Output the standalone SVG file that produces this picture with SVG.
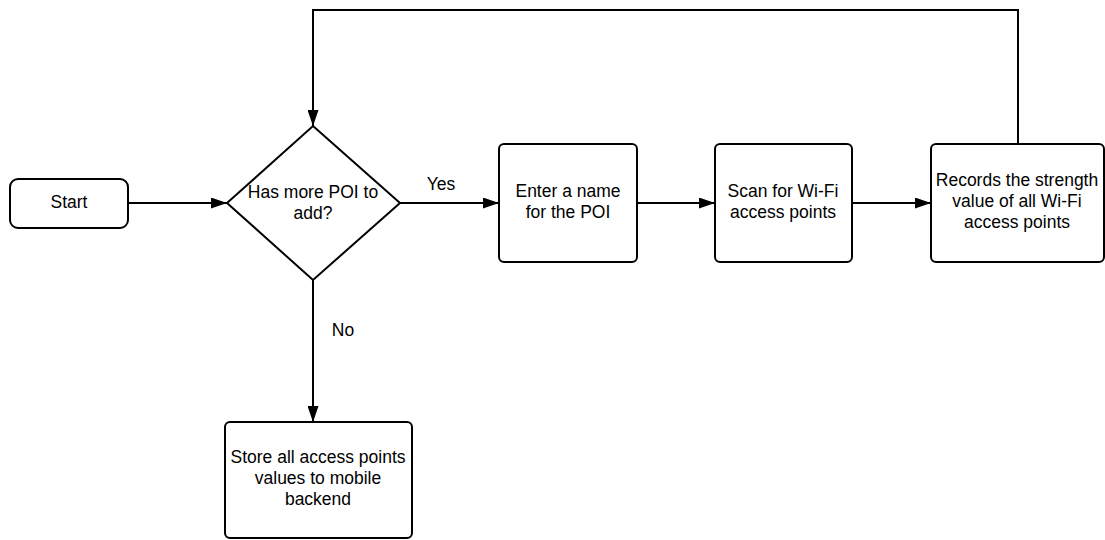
<svg xmlns="http://www.w3.org/2000/svg" width="1105" height="540" viewBox="0 0 1105 540">
  <style>
    .box { fill: #ffffff; stroke: #000000; stroke-width: 2; }
    .edge { fill: none; stroke: #000000; stroke-width: 2; }
    text { font-family: "Liberation Sans", Arial, sans-serif; font-size: 17.5px; fill: #000000; text-anchor: middle; }
  </style>
  <defs>
    <marker id="arrow" viewBox="0 0 16 11" refX="16" refY="5.5" markerWidth="16" markerHeight="11" markerUnits="userSpaceOnUse" orient="auto">
      <path d="M0,0 L16,5.5 L0,11 Z" fill="#000000"/>
    </marker>
  </defs>
  <rect width="1105" height="540" fill="#ffffff"/>

  <g id="connectors">
    <path class="edge" d="M128,203 H227" marker-end="url(#arrow)"/>
    <path class="edge" d="M400,203 H499" marker-end="url(#arrow)"/>
    <path class="edge" d="M637,203 H715" marker-end="url(#arrow)"/>
    <path class="edge" d="M852,203 H931" marker-end="url(#arrow)"/>
    <path class="edge" d="M1018,144 V10 H313 V126" marker-end="url(#arrow)"/>
    <path class="edge" d="M313,280 V422" marker-end="url(#arrow)"/>
    <text x="441" y="190">Yes</text>
    <text x="343" y="336">No</text>
  </g>

  <g id="start">
    <rect class="box" x="10" y="179" width="118" height="49" rx="8"/>
    <text x="69" y="208">Start</text>
  </g>

  <g id="decision">
    <polygon class="box" points="313,126 400,203 313,280 227,203"/>
    <text x="313" y="198">Has more POI to</text>
    <text x="313" y="219">add?</text>
  </g>

  <g id="enter-name">
    <rect class="box" x="499" y="144" width="138" height="118" rx="5"/>
    <text x="568" y="197">Enter a name</text>
    <text x="568" y="218">for the POI</text>
  </g>

  <g id="scan">
    <rect class="box" x="715" y="144" width="137" height="118" rx="5"/>
    <text x="783" y="197">Scan for Wi-Fi</text>
    <text x="783" y="218">access points</text>
  </g>

  <g id="record">
    <rect class="box" x="931" y="144" width="173" height="118" rx="5"/>
    <text x="1017" y="186">Records the strength</text>
    <text x="1017" y="207">value of all Wi-Fi</text>
    <text x="1017" y="228">access points</text>
  </g>

  <g id="store">
    <rect class="box" x="225" y="422" width="187" height="116" rx="5"/>
    <text x="318" y="463">Store all access points</text>
    <text x="318" y="484">values to mobile</text>
    <text x="318" y="505">backend</text>
  </g>
</svg>
